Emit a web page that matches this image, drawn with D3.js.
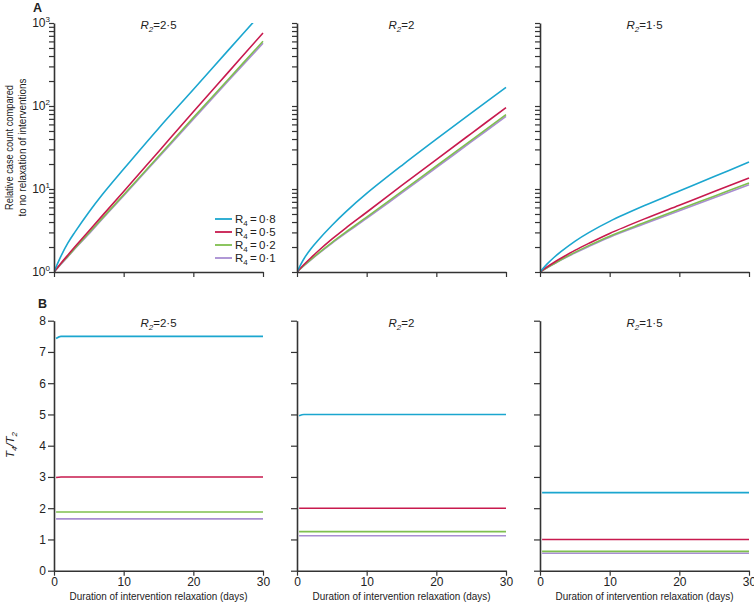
<!DOCTYPE html>
<html><head><meta charset="utf-8">
<script src="https://cdn.jsdelivr.net/npm/d3@7"></script>
<style>
body{margin:0;background:#fff}
svg text{font-family:"Liberation Sans Narrow","Arial Narrow","Liberation Sans",sans-serif;fill:#222}
</style>
</head><body>
<svg id="chart" width="754" height="606"></svg>
<script>
// ---------- DATA ----------
const days = [0, 1, 2, 3, 5, 7, 10, 15, 20, 25, 30];
const r2Labels = ["2·5", "2", "1·5"];
const r4Labels = ["0·8", "0·5", "0·2", "0·1"];
const seriesColors = ["#1ba6cf", "#c81a4e", "#7fbf4f", "#a88dd2"];
const logTickLabels = [1, 10, 100, 1000];
const dayTicks = [0, 10, 20, 30];
const ratioTicks = [0, 1, 2, 3, 4, 5, 6, 7, 8];

// Panel A: relative case count (R2 = 2.5)
const caseR25_r08 = [1, 1.55, 2.24, 3.02, 5.25, 8.7, 17.4, 53.7, 158, 468, 1380];
const caseR25_r05 = [1, 1.274, 1.603, 2.009, 3.126, 4.842, 9.333, 28.18, 85.11, 254.1, 758.6];
const caseR25_r02 = [1, 1.26, 1.55, 1.93, 2.95, 4.52, 8.51, 24.8, 72.4, 209, 603];
const caseR25_r01 = [1, 1.24, 1.53, 1.91, 2.88, 4.42, 8.32, 24.0, 69.2, 200, 569];
// (R2 = 2)
const caseR2_r08 = [1, 1.445, 1.905, 2.399, 3.631, 5.297, 8.831, 19.05, 39.81, 82.22, 167.5];
const caseR2_r05 = [1, 1.230, 1.486, 1.778, 2.483, 3.388, 5.248, 10.96, 22.65, 46.56, 95.5];
const caseR2_r02 = [1, 1.197, 1.419, 1.667, 2.265, 3.020, 4.571, 9.290, 18.92, 38.55, 78.52];
const caseR2_r01 = [1, 1.189, 1.403, 1.644, 2.218, 2.938, 4.416, 8.913, 18.11, 36.90, 75.0];
// (R2 = 1.5)
const caseR15_r08 = [1, 1.245, 1.496, 1.758, 2.344, 2.985, 4.074, 6.31, 9.44, 14.13, 21.1];
const caseR15_r05 = [1, 1.148, 1.303, 1.462, 1.820, 2.213, 2.917, 4.365, 6.383, 9.333, 13.58];
const caseR15_r02 = [1, 1.127, 1.259, 1.406, 1.722, 2.080, 2.704, 3.936, 5.689, 8.185, 11.80];
const caseR15_r01 = [1, 1.122, 1.250, 1.390, 1.690, 2.032, 2.630, 3.802, 5.470, 7.834, 11.22];

// Panel B: T4/T2
const ratioDays = [0.3, 1, 30];
const ratioR25_r08 = [7.43, 7.5, 7.5];
const ratioR25_r05 = [2.98, 3.0, 3.0];
const ratioR25_r02 = [1.88, 1.88, 1.88];
const ratioR25_r01 = [1.66, 1.66, 1.66];
const ratioR2_r08 = [4.96, 5.0, 5.0];
const ratioR2_r05 = [2.0, 2.0, 2.0];
const ratioR2_r02 = [1.25, 1.25, 1.25];
const ratioR2_r01 = [1.12, 1.12, 1.12];
const ratioR15_r08 = [2.5, 2.5, 2.5];
const ratioR15_r05 = [1.0, 1.0, 1.0];
const ratioR15_r02 = [0.62, 0.62, 0.62];
const ratioR15_r01 = [0.56, 0.56, 0.56];

const caseSets = [
  [caseR25_r08, caseR25_r05, caseR25_r02, caseR25_r01],
  [caseR2_r08, caseR2_r05, caseR2_r02, caseR2_r01],
  [caseR15_r08, caseR15_r05, caseR15_r02, caseR15_r01]
];
const ratioSets = [
  [ratioR25_r08, ratioR25_r05, ratioR25_r02, ratioR25_r01],
  [ratioR2_r08, ratioR2_r05, ratioR2_r02, ratioR2_r01],
  [ratioR15_r08, ratioR15_r05, ratioR15_r02, ratioR15_r01]
];

// ---------- LAYOUT ----------
const svg = d3.select("#chart");
const xRanges = [[54, 263], [297, 506], [540, 749]];
const yA = d3.scaleLog().domain([1, 1000]).range([272, 23]);
const yB = d3.scaleLinear().domain([0, 8]).range([570.7, 320.7]);
const axisColor = "#333";

function styleAxis(g) {
  g.select(".domain").attr("stroke", axisColor).attr("stroke-width", 1.6);
  g.selectAll(".tick line").attr("stroke", axisColor).attr("stroke-width", 1.2);
  g.selectAll("text").attr("font-family", null).attr("fill", "#222");
}

function panelTitle(g, cx, y, label) {
  const t = g.append("text").attr("x", cx).attr("y", y).attr("text-anchor", "middle").attr("font-size", 11.5);
  t.append("tspan").attr("font-style", "italic").text("R");
  t.append("tspan").attr("font-style", "italic").attr("font-size", 8).attr("dy", 2.5).text("2");
  t.append("tspan").attr("dy", -2.5).text("=" + label);
}

const lineOrder = [3, 2, 1, 0];

xRanges.forEach((xr, i) => {
  const x = d3.scaleLinear().domain([0, 30]).range(xr);
  const cx = (xr[0] + xr[1]) / 2;

  // ----- Panel A -----
  const gA = svg.append("g");
  const clipId = "clipA" + i;
  svg.append("clipPath").attr("id", clipId).append("rect")
    .attr("x", xr[0]).attr("y", yA.range()[1]).attr("width", xr[1] - xr[0] + 2)
    .attr("height", yA.range()[0] - yA.range()[1]);

  const lineA = d3.line().x(d => x(d[0])).y(d => yA(d[1])).curve(d3.curveCatmullRom.alpha(0.5));
  lineOrder.forEach(s => {
    gA.append("path")
      .datum(days.map((d, k) => [d, caseSets[i][s][k]]))
      .attr("clip-path", `url(#${clipId})`)
      .attr("fill", "none").attr("stroke", seriesColors[s]).attr("stroke-width", 1.6)
      .attr("d", lineA);
  });

  const axA_y = gA.append("g").attr("transform", `translate(${xr[0]},0)`)
    .call(d3.axisLeft(yA).tickValues(yA.ticks()).tickSize(5).tickSizeOuter(0).tickFormat(""));
  styleAxis(axA_y);
  const axA_x = gA.append("g").attr("transform", `translate(0,${yA.range()[0]})`)
    .call(d3.axisBottom(x).tickValues(dayTicks).tickSize(5).tickSizeOuter(0).tickFormat(""));
  styleAxis(axA_x);

  if (i === 0) {
    logTickLabels.forEach(v => {
      const t = gA.append("text").attr("x", xr[0] - 4).attr("y", yA(v) + 4)
        .attr("text-anchor", "end").attr("font-size", 12);
      t.append("tspan").text("10");
      t.append("tspan").attr("font-size", 8).attr("dy", -5).text(String(Math.round(Math.log10(v))));
    });
  }
  panelTitle(gA, cx, 29, r2Labels[i]);

  // ----- Panel B -----
  const gB = svg.append("g");
  const lineB = d3.line().x(d => x(d[0])).y(d => yB(d[1])).curve(d3.curveMonotoneX);
  lineOrder.forEach(s => {
    gB.append("path")
      .datum(ratioDays.map((d, k) => [d, ratioSets[i][s][k]]))
      .attr("fill", "none").attr("stroke", seriesColors[s]).attr("stroke-width", 1.6)
      .attr("d", lineB);
  });
  const axB_y = gB.append("g").attr("transform", `translate(${xr[0]},0)`)
    .call(d3.axisLeft(yB).tickValues(ratioTicks).tickSize(6).tickSizeOuter(0).tickPadding(2)
      .tickFormat(i === 0 ? d3.format("d") : ""));
  styleAxis(axB_y);
  axB_y.selectAll("text").attr("font-size", 12);
  const axB_x = gB.append("g").attr("transform", `translate(0,${yB.range()[0]})`)
    .call(d3.axisBottom(x).tickValues(dayTicks).tickSize(5).tickSizeOuter(0).tickPadding(2).tickFormat(d3.format("d")));
  styleAxis(axB_x);
  axB_x.selectAll("text").attr("font-size", 12);

  panelTitle(gB, cx, 327, r2Labels[i]);
  gB.append("text").attr("x", cx).attr("y", 600).attr("text-anchor", "middle")
    .attr("font-size", 11).attr("textLength", 178).attr("lengthAdjust", "spacingAndGlyphs")
    .text("Duration of intervention relaxation (days)");
});

// ---------- Labels ----------
svg.append("text").attr("x", 33).attr("y", 11.5).attr("font-size", 12.5).attr("font-weight", "bold").text("A");
svg.append("text").attr("x", 38).attr("y", 308).attr("font-size", 12.5).attr("font-weight", "bold").text("B");

const yTitle = svg.append("g").attr("transform", "translate(0,147.5) rotate(-90)");
yTitle.append("text").attr("x", 0).attr("y", 13).attr("text-anchor", "middle").attr("font-size", 11)
  .attr("textLength", 125).attr("lengthAdjust", "spacingAndGlyphs").text("Relative case count compared");
yTitle.append("text").attr("x", 0).attr("y", 25.5).attr("text-anchor", "middle").attr("font-size", 11)
  .attr("textLength", 138).attr("lengthAdjust", "spacingAndGlyphs").text("to no relaxation of interventions");

const tTitle = svg.append("g").attr("transform", "translate(0,445) rotate(-90)")
  .append("text").attr("x", 0).attr("y", 14).attr("text-anchor", "middle").attr("font-size", 11.5).attr("font-style", "italic");
tTitle.append("tspan").text("T");
tTitle.append("tspan").attr("font-size", 8).attr("dy", 2.5).text("4");
tTitle.append("tspan").attr("dy", -2.5).text("/T");
tTitle.append("tspan").attr("font-size", 8).attr("dy", 2.5).text("2");

// Legend
const legend = svg.append("g");
r4Labels.forEach((lab, s) => {
  const y = 219 + s * 13;
  legend.append("line").attr("x1", 215).attr("x2", 232).attr("y1", y).attr("y2", y)
    .attr("stroke", seriesColors[s]).attr("stroke-width", 1.8);
  const t = legend.append("text").attr("x", 235).attr("y", y + 4).attr("font-size", 11.5);
  t.append("tspan").text("R");
  t.append("tspan").attr("font-size", 8).attr("dy", 2.5).text("4");
  t.append("tspan").attr("dy", -2.5).text("\u2009=\u2009" + lab);
});
</script>
</body></html>
